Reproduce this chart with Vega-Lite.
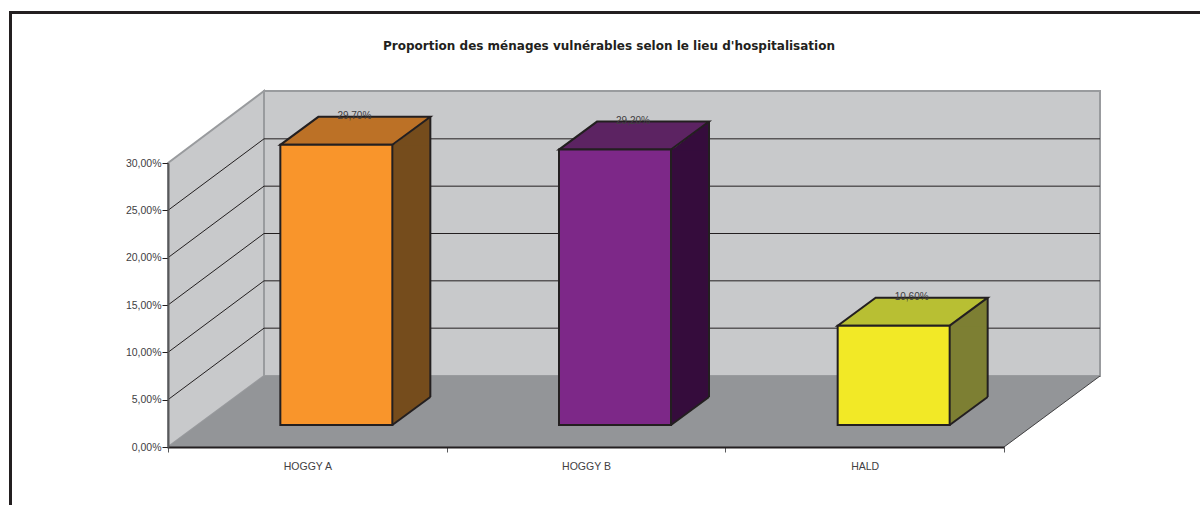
{
"$schema":"https://vega.github.io/schema/vega-lite/v6.json",
"width":836,"height":284,
"autosize":{"type":"none"},
"padding":{"left":168,"top":163,"right":196,"bottom":58},
"background":"#ffffff",
"view":{"stroke":null},
"title":{"text":"Proportion des ménages vulnérables selon le lieu d'hospitalisation","font":"DejaVu Sans","fontSize":12,"fontWeight":"bold","color":"#231F20","anchor":"middle","dx":23,"offset":-51,"baseline":"middle"},
"data":{"values":[
{"lieu":"HOGGY A","valeur":29.7,"etiquette":"29,70%"},
{"lieu":"HOGGY B","valeur":29.2,"etiquette":"29,20%"},
{"lieu":"HALD","valeur":10.6,"etiquette":"10,60%"}
]},
"encoding":{
"x":{"field":"lieu","type":"nominal","sort":null,"title":null,
 "scale":{"domain":["HOGGY A","HOGGY B","HALD"],"paddingInner":0,"paddingOuter":0},
 "axis":{"tickBand":"extent","labelAngle":0,"labelFont":"Liberation Sans","labelFontSize":10.5,"labelColor":"#414042","labelPadding":9,"tickSize":5,"tickColor":"#58595B","tickWidth":1,"domainColor":"#231F20","domainWidth":2,"zindex":1,"grid":false}},
"y":{"field":"valeur","type":"quantitative","title":null,
 "scale":{"domain":[0,30],"nice":false,"zero":true},
 "axis":{"values":[0,5,10,15,20,25,30],"labelExpr":"replace(format(datum.value,'.2f'),'.',',')+'%'","labelFont":"Liberation Sans","labelFontSize":10.5,"labelColor":"#414042","labelPadding":1,"tickSize":6,"tickColor":"#231F20","tickWidth":1,"domainColor":"#58595B","domainWidth":2,"zindex":1,"grid":false}}
},
"layer":[
{"mark":{"type":"point","shape":"M0,0L96,-71L96,-356L0,-284Z","size":4,"filled":true,"fill":"#C8C9CB","stroke":"#999B9E","strokeWidth":2,"opacity":1},
 "data":{"values":[{"base":0}]},
 "encoding":{"x":{"datum":"HOGGY A","bandPosition":0},"y":{"field":"base","type":"quantitative"}}},
{"mark":{"type":"point","shape":"M96,-71L932,-71L932,-356L96,-356Z","size":4,"filled":true,"fill":"#C8C9CB","stroke":"#999B9E","strokeWidth":2,"opacity":1},
 "data":{"values":[{"base":0}]},
 "encoding":{"x":{"datum":"HOGGY A","bandPosition":0},"y":{"field":"base","type":"quantitative"}}},
{"mark":{"type":"point","shape":"M0,0L96,-71L932,-71L836,0Z","size":4,"filled":true,"fill":"#939598","strokeWidth":0,"opacity":1},
 "data":{"values":[{"base":0}]},
 "encoding":{"x":{"datum":"HOGGY A","bandPosition":0},"y":{"field":"base","type":"quantitative"}}},
{"mark":{"type":"point","shape":"M836,0L932,-71","size":4,"filled":false,"stroke":"#414042","strokeWidth":1,"opacity":1},
 "data":{"values":[{"base":0}]},
 "encoding":{"x":{"datum":"HOGGY A","bandPosition":0},"y":{"field":"base","type":"quantitative"}}},
{"mark":{"type":"point","shape":"M0,0L96,-71.5L932,-71.5","size":4,"filled":false,"stroke":"#231F20","strokeWidth":1,"opacity":1},
 "data":{"values":[{"grille":5},{"grille":10},{"grille":15},{"grille":20},{"grille":25}]},
 "encoding":{"x":{"datum":"HOGGY A","bandPosition":0},"y":{"field":"grille","type":"quantitative"}}},
{"mark":{"type":"bar","width":38,"xOffset":104,"yOffset":-22,"y2Offset":-49},
 "encoding":{"y2":{"datum":0},"fill":{"field":"lieu","type":"nominal","legend":null,"scale":{"domain":["HOGGY A","HOGGY B","HALD"],"range":["#754C1C","#350C3C","#7D7F33"]}}}},
{"mark":{"type":"point","shape":"M56,1L94,-28L94,1Z","size":4,"filled":true,"strokeWidth":0,"opacity":1,"xOffset":29,"yOffset":-21},
 "encoding":{"fill":{"field":"lieu","type":"nominal","legend":null,"scale":{"domain":["HOGGY A","HOGGY B","HALD"],"range":["#754C1C","#350C3C","#7D7F33"]}}}},
{"mark":{"type":"point","shape":"M56,0L94,-28L94,-29L56,-29Z","size":4,"filled":true,"strokeWidth":0,"opacity":1,"xOffset":29,"yOffset":-22},
 "encoding":{"y":{"datum":0},"fill":{"field":"lieu","type":"nominal","legend":null,"scale":{"domain":["HOGGY A","HOGGY B","HALD"],"range":["#754C1C","#350C3C","#7D7F33"]}}}},
{"mark":{"type":"rule","stroke":"#231F20","strokeWidth":2,"xOffset":123,"yOffset":-49,"y2Offset":-50},
 "encoding":{"y2":{"datum":0}}},
{"mark":{"type":"point","shape":"M56,0L94,-28","size":4,"filled":false,"stroke":"#231F20","strokeWidth":2,"opacity":1,"xOffset":29,"yOffset":-22},
 "encoding":{"y":{"datum":0}}},
{"mark":{"type":"point","shape":"M-56,0L56,0L94,-28L-18,-28Z","size":4,"filled":true,"stroke":"#231F20","strokeWidth":2,"opacity":1,"xOffset":29,"yOffset":-21},
 "encoding":{"fill":{"field":"lieu","type":"nominal","legend":null,"scale":{"domain":["HOGGY A","HOGGY B","HALD"],"range":["#BC7126","#5C2362","#B8BF33"]}}}},
{"mark":{"type":"bar","width":112,"xOffset":29,"yOffset":-21,"y2Offset":-22,"stroke":"#231F20","strokeWidth":2},
 "encoding":{"y2":{"datum":0},"fill":{"field":"lieu","type":"nominal","legend":null,"scale":{"domain":["HOGGY A","HOGGY B","HALD"],"range":["#F9952B","#7D2888","#F2E926"]}}}},
{"mark":{"type":"text","font":"Liberation Sans","fontSize":10,"color":"#414042","xOffset":47,"yOffset":-50,"baseline":"middle"},
 "encoding":{"text":{"field":"etiquette"}}},
{"mark":{"type":"point","shape":"M-157.5,342L-157.5,-150.5L1032,-150.5","size":4,"filled":false,"stroke":"#231F20","strokeWidth":3,"opacity":1},
 "data":{"values":[{"base":30}]},
 "encoding":{"x":{"datum":"HOGGY A","bandPosition":0},"y":{"field":"base","type":"quantitative"}}}
],
"resolve":{"scale":{"fill":"independent"}}
}
